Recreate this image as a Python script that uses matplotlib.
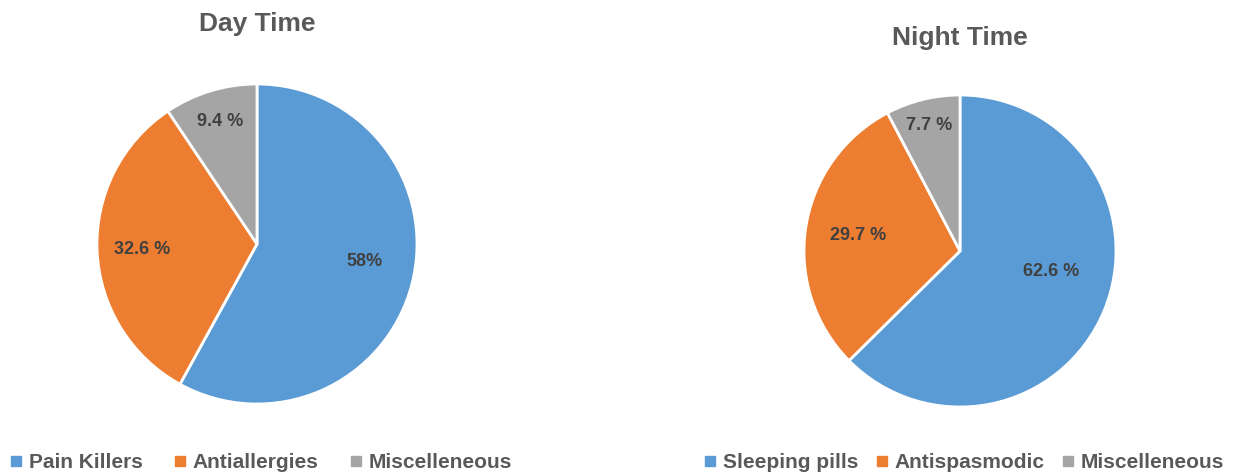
import numpy as np
import matplotlib
matplotlib.use('Agg')
import matplotlib.pyplot as plt
from matplotlib.lines import Line2D

plt.rcParams['font.family'] = ['Liberation Sans', 'DejaVu Sans']
plt.rcParams['font.weight'] = 'bold'

# Day time medication shares
day_labels = ['Pain Killers', 'Antiallergies', 'Miscelleneous']
day_values = [58.0, 32.6, 9.4]
day_text = ['58%', '32.6 %', '9.4 %']

# Night time medication shares
night_labels = ['Sleeping pills', 'Antispasmodic', 'Miscelleneous']
night_values = [62.6, 29.7, 7.7]
night_text = ['62.6 %', '29.7 %', '7.7 %']

colors = ['#5B9BD5', '#ED7D31', '#A5A5A5']
TITLE_COLOR = '#595959'
LABEL_COLOR = '#404040'

W, H = 1243, 476
fig = plt.figure(figsize=(W / 100, H / 100), dpi=100)


def draw_pie(cx, cy, r, values, texts, dists, shifts, title, title_y,
             legend_labels, legend_x, colspace):
    ax = fig.add_axes([(cx - r) / W, (H - cy - r) / H, 2 * r / W, 2 * r / H])
    wedges, _ = ax.pie(values, colors=colors, startangle=90, counterclock=False,
                       wedgeprops=dict(edgecolor='white', linewidth=2))
    ax.set_xlim(-1, 1)
    ax.set_ylim(-1, 1)
    ax.set_aspect('equal')
    ax.axis('off')

    # data labels placed inside each wedge, nudged along the arc
    for w, t, d, s in zip(wedges, texts, dists, shifts):
        mid = np.deg2rad((w.theta1 + w.theta2) / 2 + s)
        ax.text(d * np.cos(mid), d * np.sin(mid), t, ha='center', va='center',
                fontsize=13, fontweight='bold', color=LABEL_COLOR)

    fig.text(cx / W, 1 - title_y / H, title, ha='center', va='center',
             fontsize=19, fontweight='bold', color=TITLE_COLOR)

    handles = [Line2D([0], [0], marker='s', linestyle='none', markersize=7,
                      markerfacecolor=c, markeredgecolor=c) for c in colors]
    fig.legend(handles, legend_labels, loc='center', ncol=3,
               bbox_to_anchor=(legend_x / W, 1 - 463 / H), frameon=False,
               prop=dict(size=15, weight='bold'), labelcolor=TITLE_COLOR,
               handlelength=0.6, handletextpad=0.3, columnspacing=colspace)


draw_pie(257, 244, 160, day_values, day_text, [0.68, 0.72, 0.80], [5, 0, 0],
         'Day Time', 24, day_labels, 261, 1.5)
draw_pie(960, 251, 156, night_values, night_text, [0.60, 0.66, 0.83], [10, 0, 0],
         'Night Time', 38, night_labels, 964, 0.85)

plt.savefig('out.png', dpi=100)
plt.close()
